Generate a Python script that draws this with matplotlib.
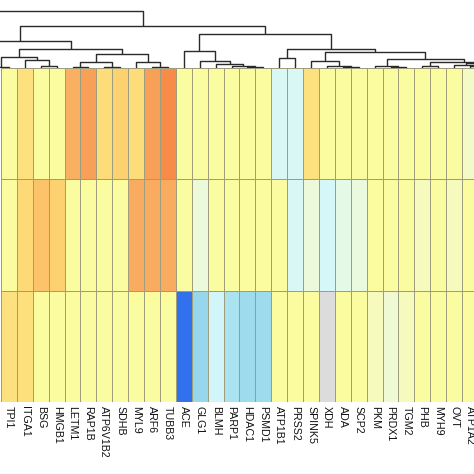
import numpy as np
import matplotlib.pyplot as plt
from matplotlib.colors import LinearSegmentedColormap, Normalize

plt.rcParams['font.family'] = ['Liberation Sans', 'DejaVu Sans']

# column labels (leaf order of the dendrogram)
genes = ["TPI1", "ITGA1", "BSG", "HMGB1", "LETM1", "RAP1B", "ATP6V1B2", "SDHB",
         "MYL9", "ARF6", "TUBB3", "ACE", "GLG1", "BLMH", "PARP1", "HDAC1", "PSMD1",
         "ATP1B1", "PRSS2", "SPINK5", "XDH", "ADA", "SCP2", "PKM", "PRDX1", "TGM2",
         "PHB", "MYH9", "OVT", "ATP1A2"]

# leaves cut off by the crop on each side
hidden_left = ["_l5", "_l4", "_l3", "_l2", "_l1"]
hidden_right = ["_r1", "_r2", "_r3", "_r4", "_r5", "_r6"]

nan = np.nan
row_top = [0.1, 0.8, 0.1, 0.1, 1.9, 2.2, 0.9, 1.2, 0.9, 2.2, 2.6, 0.1, 0.1, 0.1, 0.1,
           0.1, 0.1, -0.7, -0.7, 0.8, 0.1, 0.1, 0.1, 0.1, 0.1, 0.1, 0.1, 0.1, 0.1, -0.05]
row_mid = [0.1, 1.0, 1.5, 1.2, 0.1, 0.1, 0.1, 0.1, 2.0, 2.0, 2.0, 0.1, -0.3, 0.1, 0.1,
           0.1, 0.1, 0.1, -0.7, -0.3, -0.75, -0.45, -0.35, 0.1, 0.1, 0.1, 0.0, 0.1, 0.0, 0.1]
row_bot = [0.8, 0.85, 0.1, 0.1, 0.1, 0.1, 0.1, 0.1, 0.1, 0.1, 0.1, -2.7, -1.6, -0.8, -1.3,
           -1.5, -1.5, 0.1, 0.1, 0.1, nan, 0.1, 0.1, 0.0, -0.2, 0.0, 0.1, 0.1, 0.1, 0.1]

# dendrogram merges: (name, left, right, height)
merges = [
    ("A", "_l1", "TPI1", 1.5),
    ("B", "BSG", "HMGB1", 2),
    ("C", "ITGA1", "B", 8),
    ("D", "A", "C", 11),
    ("G1", "LETM1", "RAP1B", 1.5),
    ("G2", "ATP6V1B2", "SDHB", 1.5),
    ("G", "G1", "G2", 6),
    ("H1", "ARF6", "TUBB3", 1.5),
    ("H", "MYL9", "H1", 6),
    ("F", "G", "H", 14),
    ("E", "D", "F", 19),
    ("X", "_l3", "_l2", 5),
    ("I", "X", "E", 27),
    ("M5", "HDAC1", "PSMD1", 1),
    ("M4", "PARP1", "M5", 2),
    ("M3", "BLMH", "M4", 4.5),
    ("M2", "GLG1", "M3", 7),
    ("M", "ACE", "M2", 17),
    ("N1", "ATP1B1", "PRSS2", 10.7),
    ("P3", "ADA", "SCP2", 1),
    ("P2", "XDH", "P3", 2),
    ("P", "SPINK5", "P2", 7),
    ("Q1b", "PRDX1", "TGM2", 1),
    ("Q1", "PKM", "Q1b", 2),
    ("Q2a", "PHB", "MYH9", 2),
    ("Z1a", "ATP1A2", "_r1", 2),
    ("Z1", "OVT", "Z1a", 3.5),
    ("Z2a", "_r2", "_r3", 1),
    ("Z2b", "_r5", "_r6", 1),
    ("Z2c", "_r4", "Z2b", 2),
    ("Z2", "Z2a", "Z2c", 3),
    ("Q2b", "Z1", "Z2", 5),
    ("Q2", "Q2a", "Q2b", 6.3),
    ("Q", "Q1", "Q2", 9),
    ("N2", "P", "Q", 16),
    ("N", "N1", "N2", 19.5),
    ("K", "M", "N", 34),
    ("J", "I", "K", 42),
    ("Y", "_l5", "_l4", 10),
    ("L", "Y", "J", 57),
]

cmap = LinearSegmentedColormap.from_list("expr", [
    (0.0, "#2060e8"), (0.4 / 6, "#3a78f0"), (1.4 / 6, "#98d8ec"), (1.8 / 6, "#b0e6f0"),
    (2.25 / 6, "#d6f7f9"), (2.7 / 6, "#ecfadc"), (3.0 / 6, "#f5fac0"), (3.1 / 6, "#fbfba0"),
    (3.8 / 6, "#fde27e"), (4.2 / 6, "#fdd070"), (4.5 / 6, "#fcc46a"), (5.0 / 6, "#f9ac60"),
    (5.2 / 6, "#f8a058"), (5.6 / 6, "#f68c48"), (1.0, "#f07838")])
cmap.set_bad("#dcdcdc")

fig = plt.figure(figsize=(4.74, 4.74), dpi=100)
xlim = (-0.563, 29.25)

# heatmap
ax = fig.add_axes([0, 0.1525, 1, 0.7035])
data = np.ma.masked_invalid(np.array([row_top, row_mid, row_bot]))
ax.pcolormesh(np.arange(len(genes) + 1) - 0.5, np.arange(4), data, cmap=cmap,
              norm=Normalize(-3, 3), edgecolors="#9e9e7c", linewidth=0.55)
ax.set_xlim(*xlim)
ax.set_ylim(3, 0)
ax.set_yticks([])
ax.set_xticks(range(len(genes)))
ax.set_xticklabels(genes, rotation=-90, fontsize=7.7, color="#111111")
ax.tick_params(axis="x", length=0, pad=3)
for s in ax.spines.values():
    s.set_visible(False)

# dendrogram
dax = fig.add_axes([0, 0.856, 1, 0.144])
order = hidden_left + genes + hidden_right
xpos = {n: i - len(hidden_left) for i, n in enumerate(order)}
hgt = {n: 0 for n in order}
for name, left, right, h in merges:
    xl, xr = xpos[left], xpos[right]
    dax.plot([xl, xl, xr, xr], [hgt[left], h, h, hgt[right]], color="#2a2a2a", lw=1.0,
             solid_capstyle="butt")
    xpos[name] = (xl + xr) / 2
    hgt[name] = h
dax.set_xlim(*xlim)
dax.set_ylim(0, 68.3)
dax.axis("off")

fig.savefig("out.png", dpi=100)
